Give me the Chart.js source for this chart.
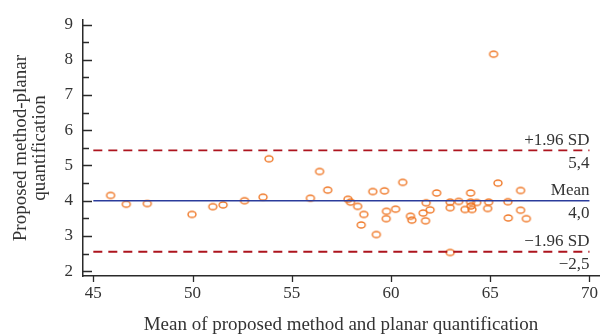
<!DOCTYPE html>
<html>
<head>
<meta charset="utf-8">
<script src="https://cdn.jsdelivr.net/npm/chart.js@4.4.1/dist/chart.umd.min.js"></script>
<style>
  html, body { margin: 0; padding: 0; background: #fff; }
  #wrap { width: 607px; height: 336px; position: relative; }
</style>
</head>
<body>
<div id="wrap"><canvas id="blandAltman"></canvas></div>
<script>
// Bland-Altman: mean of the two methods (x) vs their difference (y).
const meanValues = [
  45.87, 46.66, 47.72, 49.97, 51.02, 51.54, 52.62, 53.55, 53.85, 55.94,
  56.40, 56.81, 57.83, 57.96, 58.32, 58.63, 58.50, 59.26, 59.08, 59.67,
  59.77, 59.76, 60.23, 60.59, 60.98, 61.05, 61.62, 61.97, 61.77, 61.74,
  62.30, 62.98, 62.98, 63.41, 62.98, 64.01, 64.01, 64.03, 63.73, 64.08,
  64.32, 64.92, 64.87, 65.39, 65.89, 65.91, 66.53, 66.53, 66.82, 65.17,
];
const diffValues = [
  4.15, 3.90, 3.92, 3.61, 3.83, 3.88, 4.00, 4.10, 5.19, 4.07,
  4.83, 4.30, 4.04, 3.96, 3.84, 3.61, 3.31, 3.04, 4.26, 4.28,
  3.70, 3.49, 3.76, 4.52, 3.56, 3.45, 3.65, 3.74, 3.94, 3.43,
  4.22, 3.96, 3.80, 3.98, 2.53, 4.22, 3.96, 3.85, 3.75, 3.75,
  3.95, 3.96, 3.78, 4.50, 3.97, 3.51, 4.29, 3.73, 3.49, 8.16,
];
const lineSpan = [45, 70];
const meanDiff = 4.0;
const upperLimit = 5.43;
const lowerLimit = 2.55;
const limitNames = ['+1.96 SD', 'Mean', '\u22121.96 SD'];
const limitValueLabels = ['5,4', '4,0', '\u22122,5'];
const xTicks = [45, 50, 55, 60, 65, 70];
const yTicks = [2, 3, 4, 5, 6, 7, 8, 9];
const yMinorTicks = [2.5, 3.5, 4.5, 5.5, 6.5, 7.5, 8.5];

const FONT = '"Liberation Serif", "DejaVu Serif", serif';
const TEXT = '#333333';
const AXIS = '#2a2a2a';
const ORANGE = '#f07b2c';
const BLUE = '#2b3c9c';
const RED = '#ad141e';

// hollow, slightly flattened marker like the source figure
function ellipseMarker() {
  const c = document.createElement('canvas');
  c.width = 12;
  c.height = 10;
  const g = c.getContext('2d');
  g.strokeStyle = ORANGE;
  g.lineWidth = 1.4;
  g.beginPath();
  g.ellipse(6, 5, 4, 3, 0, 0, Math.PI * 2);
  g.stroke();
  return c;
}

function hLine(y) {
  return lineSpan.map((x) => ({ x, y }));
}

// inward y ticks (long + short), downward x ticks
const tickMarks = {
  id: 'tickMarks',
  afterDraw(chart) {
    const { ctx, chartArea } = chart;
    const xs = chart.scales.x;
    const ys = chart.scales.y;
    ctx.save();
    ctx.strokeStyle = AXIS;
    ctx.lineWidth = 1.3;
    ctx.beginPath();
    yTicks.forEach((v) => {
      const p = Math.round(ys.getPixelForValue(v)) + 0.5;
      ctx.moveTo(chartArea.left, p);
      ctx.lineTo(chartArea.left + 9, p);
    });
    yMinorTicks.forEach((v) => {
      const p = Math.round(ys.getPixelForValue(v)) + 0.5;
      ctx.moveTo(chartArea.left, p);
      ctx.lineTo(chartArea.left + 6, p);
    });
    xTicks.forEach((v) => {
      const p = Math.round(xs.getPixelForValue(v)) + 0.5;
      ctx.moveTo(p, chartArea.bottom);
      ctx.lineTo(p, chartArea.bottom + 6);
    });
    ctx.stroke();
    ctx.restore();
  },
};

// "+1.96 SD / 5,4" style labels above and below each reference line
const limitText = {
  id: 'limitText',
  afterDraw(chart) {
    const { ctx } = chart;
    const xs = chart.scales.x;
    const ys = chart.scales.y;
    const right = xs.getPixelForValue(lineSpan[1]);
    const levels = [upperLimit, meanDiff, lowerLimit];
    ctx.save();
    ctx.font = `17px ${FONT}`;
    ctx.fillStyle = TEXT;
    ctx.textAlign = 'right';
    ctx.textBaseline = 'middle';
    levels.forEach((lvl, i) => {
      const p = ys.getPixelForValue(lvl);
      ctx.fillText(limitNames[i], right, p - 10);
      ctx.fillText(limitValueLabels[i], right, p + 13);
    });
    ctx.restore();
  },
};

new Chart(document.getElementById('blandAltman').getContext('2d'), {
  type: 'scatter',
  data: {
    datasets: [
      {
        type: 'line',
        data: hLine(upperLimit),
        borderColor: RED,
        borderWidth: 1.8,
        borderDash: [9, 6],
        pointRadius: 0,
      },
      {
        type: 'line',
        data: hLine(lowerLimit),
        borderColor: RED,
        borderWidth: 1.8,
        borderDash: [9, 6],
        pointRadius: 0,
      },
      {
        type: 'line',
        data: hLine(meanDiff),
        borderColor: BLUE,
        borderWidth: 1.4,
        pointRadius: 0,
      },
      {
        data: meanValues.map((x, i) => ({ x, y: diffValues[i] })),
        pointStyle: ellipseMarker(),
        pointRadius: 5,
      },
    ],
  },
  options: {
    responsive: true,
    maintainAspectRatio: false,
    animation: false,
    layout: { padding: { left: 0, right: 8, top: 13, bottom: 0 } },
    plugins: { legend: { display: false }, tooltip: { enabled: false } },
    scales: {
      x: {
        type: 'linear',
        min: 44.48,
        max: 70.48,
        afterBuildTicks: (s) => { s.ticks = xTicks.map((value) => ({ value })); },
        afterFit: (s) => { s.height = 60; },
        grid: { display: false, drawTicks: false },
        border: { display: true, color: AXIS, width: 1.5 },
        ticks: { color: TEXT, font: { family: FONT, size: 17 }, padding: 7, maxRotation: 0 },
        title: {
          display: true,
          text: 'Mean of proposed method and planar quantification',
          color: TEXT,
          font: { family: FONT, size: 19 },
          padding: { top: 0, bottom: 0 },
        },
      },
      y: {
        type: 'linear',
        min: 1.862,
        max: 9.124,
        afterBuildTicks: (s) => { s.ticks = yTicks.map((value) => ({ value })); },
        afterFit: (s) => { s.width = 83; },
        grid: { display: false, drawTicks: false },
        border: { display: true, color: AXIS, width: 1.5 },
        ticks: { color: TEXT, font: { family: FONT, size: 17 }, padding: 10 },
        title: {
          display: true,
          text: ['Proposed method-planar', 'quantification'],
          color: TEXT,
          font: { family: FONT, size: 19, lineHeight: 1.0 },
          padding: { top: 11.5, bottom: 0 },
        },
      },
    },
  },
  plugins: [tickMarks, limitText],
});
</script>
</body>
</html>
